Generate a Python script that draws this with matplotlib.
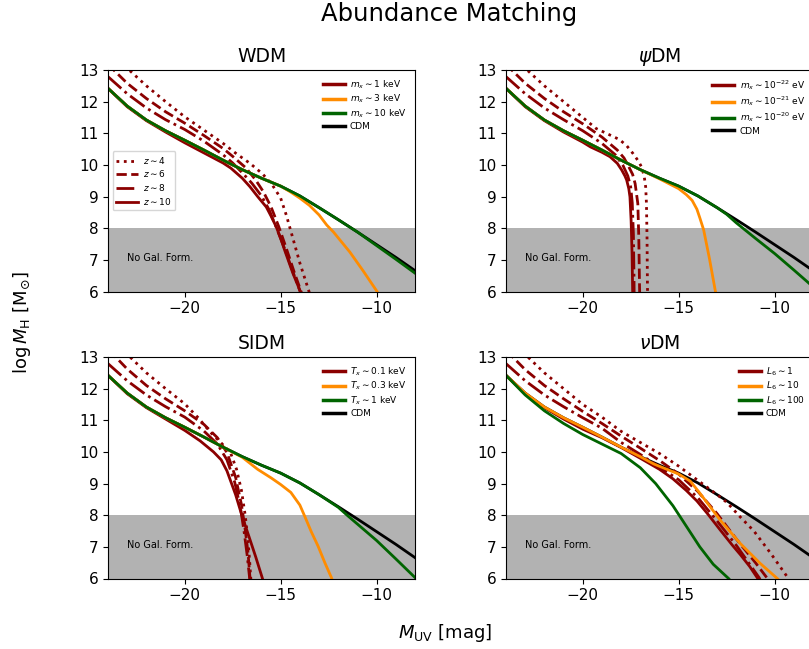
import matplotlib
matplotlib.use("Agg")
import matplotlib.pyplot as plt
from matplotlib.lines import Line2D

# === Data: M_UV [mag] vs log M_H [Msun] ===
# CDM reference curve (same in every panel)
cdm_M = [-24, -23, -22, -21, -20, -19, -18, -17, -16, -15, -14, -13, -12, -11, -10, -9, -8]
cdm_y = [12.42, 11.86, 11.42, 11.08, 10.78, 10.47, 10.15, 9.85, 9.58, 9.33, 9.02, 8.65, 8.27, 7.88, 7.48, 7.08, 6.66]

# --- WDM ---
wdm_z10_M = [-24, -23, -22, -21, -20, -19, -18, -17.6, -17.0, -16.6, -16.2, -15.75, -15.5, -15.23, -15.0, -14.79, -14.36, -14.0, -13.9]
wdm_z10_y = [12.42, 11.84, 11.40, 11.04, 10.70, 10.38, 10.06, 9.90, 9.58, 9.31, 9.0, 8.67, 8.38, 8.04, 7.68, 7.30, 6.57, 6.04, 5.88]
wdm_z8_M = [-24, -23, -22, -21, -20, -19, -18, -17.5, -17.0, -16.5, -16.0, -15.6, -15.2, -14.75, -14.35, -14.0, -13.9]
wdm_z8_y = [12.79, 12.25, 11.80, 11.43, 11.12, 10.75, 10.32, 10.06, 9.75, 9.42, 9.02, 8.58, 7.98, 7.28, 6.6, 6.02, 5.85]
wdm_z6_M = [-24, -23.7, -23, -22, -21, -20, -19, -18, -17.5, -16.8, -16.3, -15.9, -15.5, -15.1, -14.7, -14.3, -13.95, -13.85]
wdm_z6_y = [13.2, 13.0, 12.58, 12.1, 11.68, 11.32, 10.93, 10.52, 10.27, 9.9, 9.52, 9.15, 8.67, 8.05, 7.35, 6.62, 6.02, 5.85]
wdm_z4_M = [-24, -22.9, -22, -21, -20, -19, -18, -17.3, -16.6, -15.95, -15.45, -15.0, -14.7, -14.35, -14.0, -13.55, -13.45]
wdm_z4_y = [13.6, 13.0, 12.5, 12.0, 11.52, 11.1, 10.68, 10.35, 10.05, 9.72, 9.38, 8.95, 8.4, 7.65, 6.9, 6.05, 5.85]
wdm_3kev_M = [-24, -23, -22, -21, -20, -19, -18, -17, -16, -15, -14.5, -14, -13.5, -13, -12.6, -12.25, -11.9, -11.4, -10.7, -10.0, -9.9]
wdm_3kev_y = [12.42, 11.86, 11.42, 11.08, 10.78, 10.47, 10.15, 9.85, 9.58, 9.33, 9.15, 8.95, 8.72, 8.42, 8.1, 7.88, 7.62, 7.25, 6.65, 6.02, 5.92]
wdm_10kev_M = [-24, -23, -22, -21, -20, -19, -18, -17, -16, -15, -14, -13, -12, -11, -10, -9, -8]
wdm_10kev_y = [12.42, 11.86, 11.42, 11.08, 10.78, 10.47, 10.15, 9.85, 9.58, 9.33, 9.02, 8.65, 8.27, 7.88, 7.45, 7.02, 6.58]

# --- psiDM ---
psi_z10_M = [-24, -23, -22, -21, -20, -19.6, -19, -18.58, -18.2, -17.97, -17.8, -17.71, -17.6, -17.54, -17.48, -17.43, -17.4, -17.39]
psi_z10_y = [12.42, 11.84, 11.40, 11.04, 10.72, 10.57, 10.40, 10.26, 10.05, 9.84, 9.65, 9.52, 9.25, 8.99, 8.25, 7.2, 6.04, 5.85]
psi_z8_M = [-24, -23, -22, -21, -20, -19, -18.3, -17.9, -17.65, -17.5, -17.42, -17.36, -17.33, -17.32]
psi_z8_y = [12.79, 12.25, 11.80, 11.43, 11.08, 10.68, 10.32, 9.98, 9.65, 9.3, 8.8, 7.8, 6.5, 5.85]
psi_z6_M = [-24, -23.7, -23, -22, -21, -20, -19, -18.2, -17.85, -17.6, -17.4, -17.27, -17.13, -17.08, -17.04, -17.03]
psi_z6_y = [13.2, 13.0, 12.58, 12.1, 11.68, 11.3, 10.88, 10.47, 10.22, 9.94, 9.7, 9.41, 8.78, 7.73, 6.14, 5.85]
psi_z4_M = [-24, -22.9, -22, -21, -20, -19.3, -18.6, -18.08, -17.7, -17.38, -17.1, -16.94, -16.8, -16.72, -16.68, -16.65, -16.63, -16.62]
psi_z4_y = [13.6, 13.0, 12.5, 12.0, 11.5, 11.15, 10.95, 10.8, 10.6, 10.36, 10.12, 9.94, 9.65, 9.3, 8.78, 7.7, 6.3, 5.85]
psi_1e21_M = [-24, -23, -22, -21, -20, -19, -18, -17, -16, -15, -14.6, -14.3, -14.05, -13.9, -13.7, -13.4, -13.1, -13.05]
psi_1e21_y = [12.42, 11.86, 11.42, 11.08, 10.78, 10.47, 10.15, 9.85, 9.56, 9.25, 9.06, 8.88, 8.6, 8.33, 7.95, 7.05, 6.05, 5.9]
psi_1e20_M = [-24, -23, -22, -21, -20, -19, -18, -17, -16, -15, -14, -13, -12.5, -12, -11, -10, -9, -8]
psi_1e20_y = [12.42, 11.86, 11.42, 11.08, 10.78, 10.47, 10.15, 9.85, 9.58, 9.33, 9.02, 8.65, 8.44, 8.17, 7.68, 7.2, 6.68, 6.15]

# --- SIDM ---
sidm_z10_M = [-24, -23, -22, -21, -20, -19.2, -18.5, -18.1, -17.8, -17.35, -17.0, -16.65, -16.3, -15.95, -15.9]
sidm_z10_y = [12.42, 11.84, 11.40, 11.04, 10.68, 10.35, 10.0, 9.75, 9.4, 8.65, 7.95, 7.32, 6.68, 6.0, 5.9]
sidm_z8_M = [-24, -23, -22, -21, -20, -19, -18.3, -17.8, -17.4, -17.1, -16.9, -16.75, -16.62, -16.58]
sidm_z8_y = [12.79, 12.25, 11.80, 11.43, 11.1, 10.66, 10.25, 9.75, 9.05, 8.25, 7.45, 6.75, 6.02, 5.85]
sidm_z6_M = [-24, -23.6, -23, -22, -21, -20, -19, -18.3, -17.8, -17.35, -17.05, -16.85, -16.7, -16.6, -16.56]
sidm_z6_y = [13.2, 13.0, 12.62, 12.1, 11.68, 11.3, 10.87, 10.45, 9.98, 9.2, 8.35, 7.55, 6.8, 6.02, 5.85]
sidm_z4_M = [-24, -22.85, -22, -21, -20, -19.3, -18.66, -18.0, -17.6, -17.3, -17.05, -16.85, -16.72, -16.63, -16.56, -16.54]
sidm_z4_y = [13.6, 13.0, 12.5, 12.0, 11.52, 11.08, 10.62, 10.22, 9.95, 9.45, 8.8, 8.0, 7.3, 6.65, 6.02, 5.85]
sidm_0p3_M = [-24, -23, -22, -21, -20, -19, -18, -17, -16.2, -15.5, -15.0, -14.47, -14.0, -13.75, -13.4, -13.05, -12.7, -12.35, -12.3]
sidm_0p3_y = [12.42, 11.86, 11.42, 11.08, 10.78, 10.47, 10.15, 9.83, 9.45, 9.18, 8.97, 8.72, 8.32, 7.97, 7.47, 7.02, 6.5, 6.02, 5.92]
sidm_1kev_M = [-24, -23, -22, -21, -20, -19, -18, -17, -16, -15, -14, -13, -12, -11.5, -11, -10, -9, -8]
sidm_1kev_y = [12.42, 11.86, 11.42, 11.08, 10.78, 10.47, 10.15, 9.85, 9.58, 9.33, 9.02, 8.65, 8.25, 7.98, 7.72, 7.2, 6.62, 6.03]

# --- nuDM ---
nu_z10_M = [-24, -23, -22, -21, -20, -19, -18, -17, -16, -15.3, -14.6, -14.05, -13.5, -12.83, -12.2, -11.78, -11.3, -10.9, -10.85]
nu_z10_y = [12.42, 11.84, 11.40, 11.04, 10.72, 10.45, 10.14, 9.8, 9.45, 9.15, 8.78, 8.45, 8.05, 7.53, 7.05, 6.75, 6.38, 6.02, 5.95]
nu_z8_M = [-24, -23, -22, -21, -20, -19, -18, -17, -16, -15, -14, -13, -12, -11.3, -10.8, -10.75]
nu_z8_y = [12.79, 12.25, 11.80, 11.43, 11.08, 10.75, 10.3, 9.92, 9.52, 9.12, 8.55, 7.82, 7.05, 6.45, 6.02, 5.95]
nu_z6_M = [-24, -23.65, -23, -22, -21, -20, -19, -18, -17, -16, -15, -14, -13, -12, -11, -10.4, -10.35]
nu_z6_y = [13.2, 13.0, 12.6, 12.1, 11.68, 11.28, 10.9, 10.5, 10.12, 9.73, 9.3, 8.75, 8.05, 7.25, 6.5, 6.02, 5.97]
nu_z4_M = [-24, -22.86, -22, -21, -20, -19, -18, -17, -16, -15, -14, -13, -12.48, -11.8, -11.08, -10.21, -9.34, -9.28]
nu_z4_y = [13.6, 13.0, 12.5, 12.0, 11.5, 11.1, 10.65, 10.3, 9.95, 9.55, 9.1, 8.65, 8.4, 7.95, 7.5, 6.8, 6.05, 6.0]
nu_L10_M = [-24, -23, -22, -21, -20, -19, -18, -17, -16.3, -15, -14.4, -13.9, -12.83, -11.78, -10.74, -9.86, -9.8]
nu_L10_y = [12.42, 11.86, 11.42, 11.08, 10.78, 10.47, 10.15, 9.85, 9.62, 9.3, 9.08, 8.7, 7.84, 7.1, 6.47, 6.0, 5.96]
nu_L100_M = [-24, -23, -22, -21, -20, -19, -18, -17, -16.2, -15.3, -14.6, -13.9, -13.2, -12.4, -12.3]
nu_L100_y = [12.42, 11.8, 11.3, 10.9, 10.55, 10.25, 9.95, 9.5, 9.0, 8.3, 7.65, 7.0, 6.45, 6.0, 5.93]

z_labels = [r'$z\sim4$', r'$z\sim6$', r'$z\sim8$', r'$z\sim10$']
z_styles = [':', '--', '-.', '-']

panels = [
    ('WDM', [r'$m_x\sim1$ keV', r'$m_x\sim3$ keV', r'$m_x\sim10$ keV'],
     [(wdm_z4_M, wdm_z4_y), (wdm_z6_M, wdm_z6_y), (wdm_z8_M, wdm_z8_y), (wdm_z10_M, wdm_z10_y)],
     (wdm_3kev_M, wdm_3kev_y), (wdm_10kev_M, wdm_10kev_y)),
    (r'$\psi$DM', [r'$m_x\sim10^{-22}$ eV', r'$m_x\sim10^{-21}$ eV', r'$m_x\sim10^{-20}$ eV'],
     [(psi_z4_M, psi_z4_y), (psi_z6_M, psi_z6_y), (psi_z8_M, psi_z8_y), (psi_z10_M, psi_z10_y)],
     (psi_1e21_M, psi_1e21_y), (psi_1e20_M, psi_1e20_y)),
    ('SIDM', [r'$T_x\sim0.1$ keV', r'$T_x\sim0.3$ keV', r'$T_x\sim1$ keV'],
     [(sidm_z4_M, sidm_z4_y), (sidm_z6_M, sidm_z6_y), (sidm_z8_M, sidm_z8_y), (sidm_z10_M, sidm_z10_y)],
     (sidm_0p3_M, sidm_0p3_y), (sidm_1kev_M, sidm_1kev_y)),
    (r'$\nu$DM', [r'$L_6\sim1$', r'$L_6\sim10$', r'$L_6\sim100$'],
     [(nu_z4_M, nu_z4_y), (nu_z6_M, nu_z6_y), (nu_z8_M, nu_z8_y), (nu_z10_M, nu_z10_y)],
     (nu_L10_M, nu_L10_y), (nu_L100_M, nu_L100_y)),
]

RED, ORANGE, GREEN = '#8b0000', '#ff8c00', '#006400'

fig = plt.figure(figsize=(8.09, 6.49), dpi=100)
W, H = 809, 649
boxes = [(108, 70), (506, 70), (108, 357), (506, 357)]

for i, (title, labels, zcurves, mid, hi) in enumerate(panels):
    x0, y0 = boxes[i]
    ax = fig.add_axes([x0 / W, 1 - (y0 + 221.5) / H, 307 / W, 221.5 / H])
    ax.axhspan(6, 8, color='gray', alpha=0.6, lw=0, zorder=0)
    ax.text(-23, 7.05, 'No Gal. Form.', fontsize=7, va='center', ha='left')

    # === draw curves: CDM underneath, then red z-curves, then the other models ===
    ax.plot(cdm_M, cdm_y, color='black', lw=2)
    for (m, y), ls in zip(zcurves, z_styles):
        ax.plot(m, y, color=RED, ls=ls, lw=2)
    ax.plot(mid[0], mid[1], color=ORANGE, lw=2)
    ax.plot(hi[0], hi[1], color=GREEN, lw=2)

    handles = [Line2D([], [], color=c, lw=2.5) for c in (RED, ORANGE, GREEN, 'black')]
    leg = ax.legend(handles, labels + ['CDM'], loc='upper right', fontsize=6.5,
                    frameon=False, handlelength=2.4, labelspacing=0.25,
                    handletextpad=0.6)
    if i == 0:
        zh = [Line2D([], [], color=RED, ls=ls, lw=2) for ls in z_styles]
        ax.add_artist(leg)
        ax.legend(zh, z_labels, loc='center left', fontsize=6.5, handlelength=2.4,
                  labelspacing=0.3, handletextpad=0.6)

    ax.set_xlim(-24, -8)
    ax.set_ylim(6, 13)
    ax.set_xticks([-20, -15, -10])
    ax.set_yticks(range(6, 14))
    ax.tick_params(labelsize=11)
    ax.set_title(title, fontsize=13.5)

fig.text(0.555, 0.978, 'Abundance Matching', fontsize=17.5, ha='center', va='center')
fig.text(0.55, 0.025, r'$M_{\rm UV}$ [mag]', fontsize=13, ha='center', va='center')
fig.text(0.027, 0.503, r'$\log M_{\rm H}\ [{\rm M}_{\odot}]$', fontsize=13,
         ha='center', va='center', rotation=90)

fig.savefig('out.png', dpi=100)
